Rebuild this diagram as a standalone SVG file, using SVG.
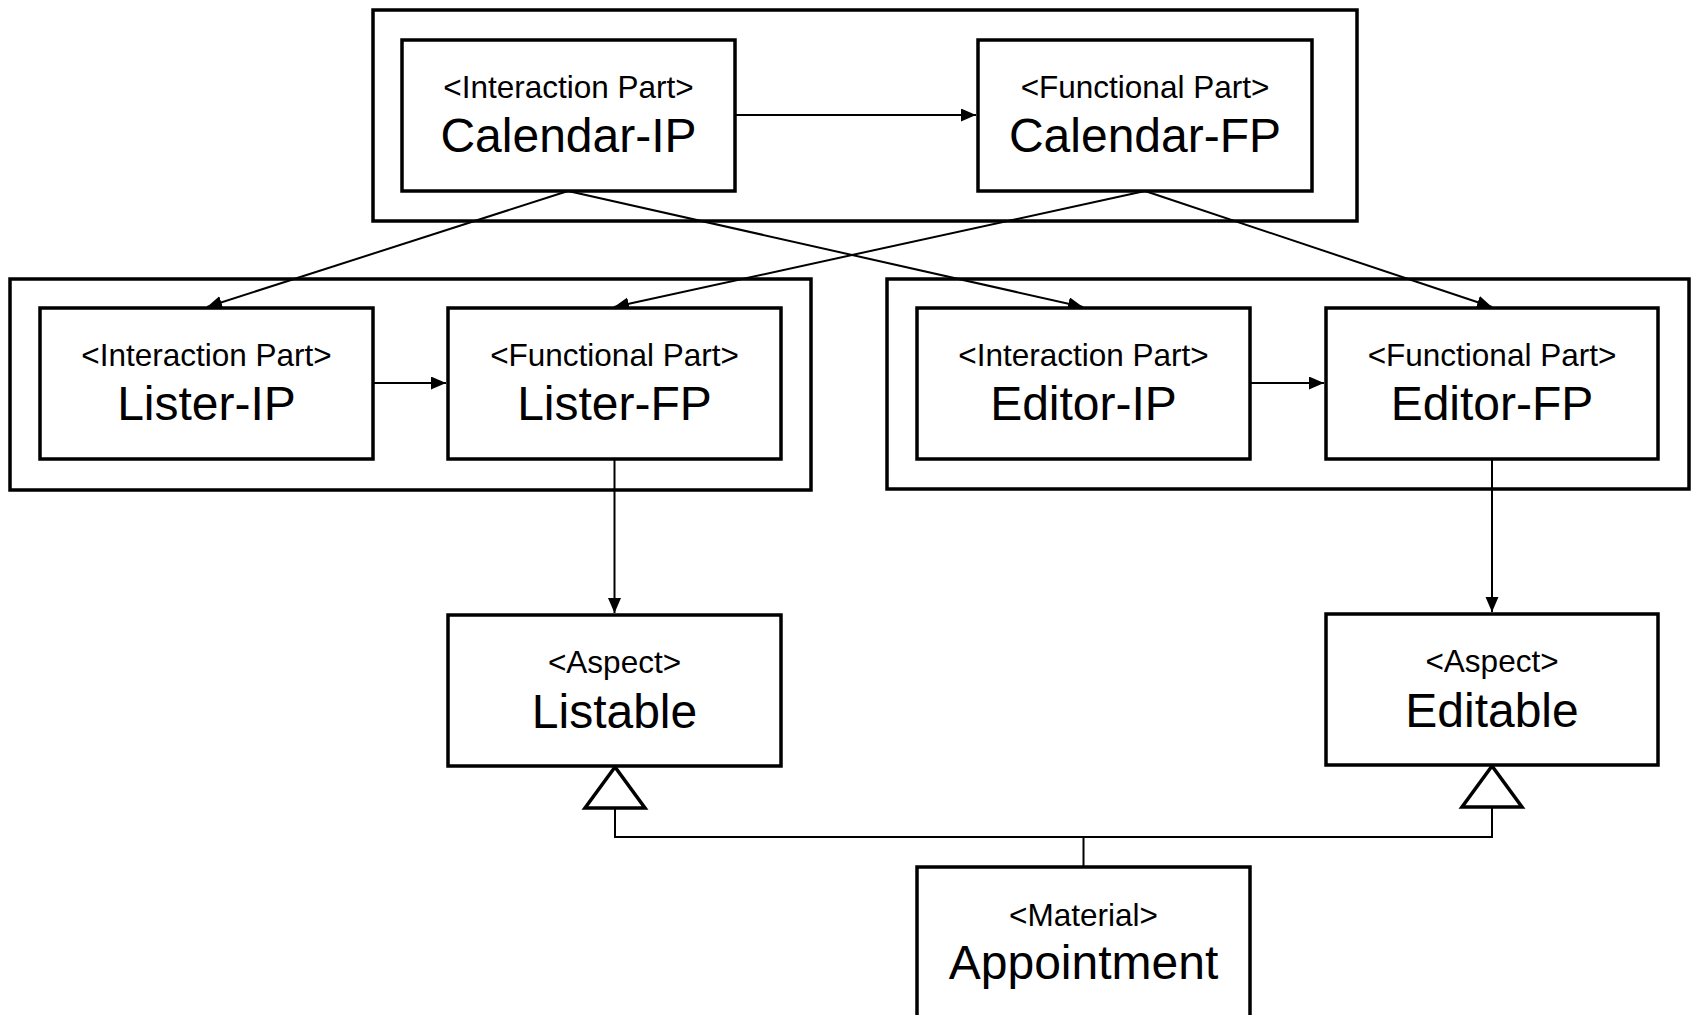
<svg xmlns="http://www.w3.org/2000/svg" width="1694" height="1015" viewBox="0 0 1694 1015">
<style>
.box{fill:#fff;stroke:#000;stroke-width:3.5}
.frame{fill:none;stroke:#000;stroke-width:3.5}
.t{font-family:"Liberation Sans",Arial,sans-serif;text-anchor:middle;fill:#000}
.s{font-size:31.5px}
.l{font-size:48px}
.c{fill:none;stroke:#000;stroke-width:2}
.g{fill:#fff;stroke:#000;stroke-width:3.5;stroke-linejoin:miter}
</style>
<defs>
<marker id="arr" markerUnits="userSpaceOnUse" markerWidth="16" markerHeight="14" refX="15" refY="6.5" orient="auto">
<path d="M0,0 L15,6.5 L0,13 z" fill="#000"/>
</marker>
</defs>
<rect width="1694" height="1015" fill="#fff"/>
<g id="frames">
<rect class="frame" x="373" y="10" width="984" height="211"/>
<rect class="frame" x="10" y="279" width="801" height="211"/>
<rect class="frame" x="887" y="279" width="802" height="210"/>
</g>
<g id="connectors">
<line class="c" x1="735" y1="115" x2="976" y2="115" marker-end="url(#arr)"/>
<line class="c" x1="374" y1="383" x2="446" y2="383" marker-end="url(#arr)"/>
<line class="c" x1="1250" y1="383" x2="1324" y2="383" marker-end="url(#arr)"/>
<line class="c" x1="568" y1="191" x2="207" y2="307" marker-end="url(#arr)"/>
<line class="c" x1="568" y1="191" x2="1083" y2="307" marker-end="url(#arr)"/>
<line class="c" x1="1145" y1="191" x2="614" y2="307" marker-end="url(#arr)"/>
<line class="c" x1="1145" y1="191" x2="1492" y2="307" marker-end="url(#arr)"/>
<line class="c" x1="614.5" y1="459" x2="614.5" y2="613" marker-end="url(#arr)"/>
<line class="c" x1="1492" y1="459" x2="1492" y2="612" marker-end="url(#arr)"/>
<polyline class="c" points="615,808 615,837 1492,837 1492,807"/>
<line class="c" x1="1083.5" y1="837" x2="1083.5" y2="867"/>
<polygon class="g" points="615,767 585,808 645,808"/>
<polygon class="g" points="1492,766 1462,807 1522,807"/>
</g>
<g id="calendar-ip">
<rect class="box" x="402" y="40" width="333" height="151"/>
<text class="t s" x="568.5" y="98">&lt;Interaction Part&gt;</text>
<text class="t l" x="568.5" y="152">Calendar-IP</text>
</g>
<g id="calendar-fp">
<rect class="box" x="978" y="40" width="334" height="151"/>
<text class="t s" x="1145" y="98">&lt;Functional Part&gt;</text>
<text class="t l" x="1145" y="152">Calendar-FP</text>
</g>
<g id="lister-ip">
<rect class="box" x="40" y="308" width="333" height="151"/>
<text class="t s" x="206.5" y="366">&lt;Interaction Part&gt;</text>
<text class="t l" x="206.5" y="420">Lister-IP</text>
</g>
<g id="lister-fp">
<rect class="box" x="448" y="308" width="333" height="151"/>
<text class="t s" x="614.5" y="366">&lt;Functional Part&gt;</text>
<text class="t l" x="614.5" y="420">Lister-FP</text>
</g>
<g id="editor-ip">
<rect class="box" x="917" y="308" width="333" height="151"/>
<text class="t s" x="1083.5" y="366">&lt;Interaction Part&gt;</text>
<text class="t l" x="1083.5" y="420">Editor-IP</text>
</g>
<g id="editor-fp">
<rect class="box" x="1326" y="308" width="332" height="151"/>
<text class="t s" x="1492" y="366">&lt;Functional Part&gt;</text>
<text class="t l" x="1492" y="420">Editor-FP</text>
</g>
<g id="listable">
<rect class="box" x="448" y="615" width="333" height="151"/>
<text class="t s" x="614.5" y="673">&lt;Aspect&gt;</text>
<text class="t l" x="614.5" y="728">Listable</text>
</g>
<g id="editable">
<rect class="box" x="1326" y="614" width="332" height="151"/>
<text class="t s" x="1492" y="672">&lt;Aspect&gt;</text>
<text class="t l" x="1492" y="727">Editable</text>
</g>
<g id="appointment">
<rect class="box" x="917" y="867" width="333" height="160"/>
<text class="t s" x="1083.5" y="926">&lt;Material&gt;</text>
<text class="t l" x="1083.5" y="979">Appointment</text>
</g>
</svg>
